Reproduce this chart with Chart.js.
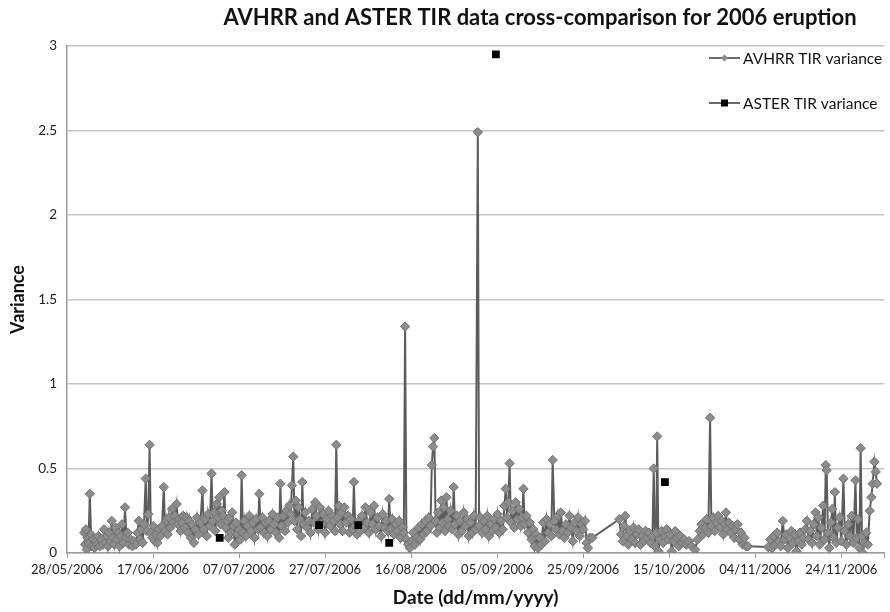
<!DOCTYPE html>
<html>
<head>
<meta charset="utf-8">
<script src="https://cdn.jsdelivr.net/npm/chart.js@4.4.1/dist/chart.umd.min.js"></script>
<style>
  html, body { margin: 0; padding: 0; background: #fff; }
  #wrap { width: 890px; height: 612px; position: relative; }
</style>
</head>
<body>
<div id="wrap"><canvas id="chart" width="890" height="612"></canvas></div>
<script>
// x values are days since 28/05/2006
const xTickLabels = ['28/05/2006', '17/06/2006', '07/07/2006', '27/07/2006', '16/08/2006',
  '05/09/2006', '25/09/2006', '15/10/2006', '04/11/2006', '24/11/2006'];

const chartTitle = 'AVHRR and ASTER TIR data cross-comparison for 2006 eruption';
const seriesNames = ['AVHRR TIR variance', 'ASTER TIR variance'];

const avhrrDays = [
  4.0, 4.2, 4.4, 4.6, 4.8, 5.0, 5.3, 5.6, 5.8, 6.1, 6.4, 6.7, 7.0, 7.3, 7.6, 8.0, 8.3, 8.6, 8.9, 9.2,
  9.5, 9.8, 10.1, 10.4, 10.7, 11.0, 11.3, 11.6, 11.9, 12.2, 12.5, 12.8, 13.1, 13.5, 13.8, 14.1, 14.4, 14.8, 15.2, 15.6,
  16.0, 16.4, 16.7, 17.0, 17.3, 17.6, 17.9, 18.3, 18.6, 18.9, 19.2, 19.5, 19.8, 20.1, 20.4, 20.7, 21.0, 21.3, 21.7, 22.1,
  22.5, 22.8, 23.1, 23.4, 23.7, 24.0, 24.4, 24.7, 25.1, 25.5, 25.8, 26.1, 26.4, 26.7, 27.0, 27.4, 27.8, 28.1, 28.4, 28.8,
  29.1, 29.5, 29.8, 30.2, 30.6, 31.0, 31.5, 31.8, 32.1, 32.5, 32.8, 33.2, 33.6, 33.9, 34.2, 34.5, 34.8, 35.1, 35.4, 35.7,
  36.0, 36.3, 36.6, 36.9, 37.2, 37.5, 37.8, 38.1, 38.4, 38.7, 39.0, 39.3, 39.6, 40.0, 40.3, 40.6, 40.9, 41.2, 41.6, 42.0,
  42.4, 42.8, 43.2, 43.6, 44.0, 44.4, 44.7, 45.0, 45.4, 45.8, 46.2, 46.6, 47.0, 47.4, 47.8, 48.2, 48.6, 49.0, 49.3, 49.6,
  49.9, 50.3, 50.7, 51.0, 51.4, 51.7, 52.0, 52.3, 52.6, 52.9, 53.2, 53.5, 53.8, 54.1, 54.4, 54.7, 55.0, 55.4, 55.8, 56.2,
  56.6, 57.0, 57.4, 57.7, 58.0, 58.4, 58.8, 59.2, 59.6, 60.0, 60.4, 60.8, 61.2, 61.6, 62.0, 62.3, 62.6, 62.9, 63.2, 63.5,
  63.8, 64.1, 64.5, 64.9, 65.3, 65.7, 66.0, 66.4, 66.7, 67.0, 67.4, 67.8, 68.2, 68.6, 69.0, 69.4, 69.8, 70.2, 70.6, 71.0,
  71.4, 71.8, 72.2, 72.6, 73.0, 73.4, 73.8, 74.2, 74.6, 74.9, 75.2, 75.6, 76.0, 76.4, 76.8, 77.2, 77.6, 78.0, 78.3, 78.6,
  78.9, 79.3, 79.7, 80.1, 80.5, 80.9, 81.3, 81.7, 82.1, 82.5, 82.9, 83.3, 83.7, 84.1, 84.5, 84.8, 85.1, 85.4, 85.7, 86.0,
  86.3, 86.7, 87.0, 87.3, 87.6, 87.9, 88.2, 88.5, 88.8, 89.2, 89.6, 89.9, 90.2, 90.6, 91.0, 91.4, 91.8, 92.2, 92.6, 93.0,
  93.4, 93.8, 94.2, 94.6, 95.0, 95.5, 95.8, 96.1, 96.5, 96.9, 97.3, 97.7, 98.1, 98.5, 98.9, 99.3, 99.7, 100.1, 100.5, 100.9,
  101.3, 101.7, 102.0, 102.3, 102.6, 102.9, 103.2, 103.6, 104.0, 104.3, 104.7, 105.1, 105.5, 105.8, 106.1, 106.4, 106.8, 107.2, 107.6, 108.0,
  108.4, 108.7, 109.1, 109.5, 109.9, 110.3, 110.7, 111.1, 111.5, 111.9, 112.3, 112.6, 112.9, 113.3, 113.7, 114.1, 114.5, 114.8, 115.2, 115.6,
  116.0, 116.4, 116.8, 117.2, 117.6, 118.0, 118.4, 118.8, 119.2, 119.6, 120.0, 120.4, 120.8, 121.1, 121.5, 122.1,
  128.4, 128.8, 129.2, 129.5, 129.8, 130.1, 130.5, 130.9, 131.3, 131.7, 132.1, 132.5, 132.9, 133.3, 133.7, 134.1, 134.5, 134.9, 135.3, 135.7,
  136.1, 136.4, 136.7, 137.0, 137.2, 137.5, 137.8, 138.2, 138.6, 139.0, 139.4, 139.8, 140.2, 140.6, 141.0, 141.4, 141.8, 142.2, 142.6, 143.0,
  143.5, 144.0, 144.6, 145.2, 146.0, 146.6, 147.1, 147.5, 147.9, 148.3, 148.7, 149.1, 149.5, 149.8, 150.2, 150.6, 151.0, 151.4, 151.8, 152.2,
  152.6, 152.9, 153.2, 153.5, 153.9, 154.3, 154.7, 155.1, 155.5, 155.9, 156.3, 156.7, 157.1, 157.5, 157.9, 158.3,
  163.0, 163.5, 163.9, 164.3, 164.7, 165.1, 165.5, 165.9, 166.4, 166.8, 167.2, 167.6, 168.0, 168.4, 168.8, 169.2, 169.6, 170.0, 170.4, 170.8,
  171.2, 171.6, 172.0, 172.4, 172.8, 173.2, 173.6, 174.0, 174.3, 174.7, 175.0, 175.4, 175.8, 176.1, 176.4, 176.6, 176.9, 177.2, 177.6, 177.9,
  178.2, 178.5, 178.8, 179.2, 179.6, 180.0, 180.5, 180.8, 181.2, 181.6, 182.0, 182.4, 182.8, 183.3, 183.6, 183.9, 184.2, 184.5, 184.8, 185.0,
  185.4, 185.8, 186.2, 186.6, 187.0, 187.3, 187.7, 188.0, 188.3
];

const avhrrVariance = [
  0.12, 0.05, 0.14, 0.02, 0.09, 0.06, 0.35, 0.11, 0.04, 0.08, 0.03, 0.07, 0.05, 0.10, 0.04, 0.08, 0.05, 0.14, 0.06, 0.10,
  0.04, 0.12, 0.07, 0.19, 0.09, 0.05, 0.15, 0.08, 0.12, 0.04, 0.10, 0.17, 0.06, 0.27, 0.09, 0.12, 0.05, 0.08, 0.04, 0.07,
  0.05, 0.12, 0.19, 0.08, 0.14, 0.06, 0.17, 0.44, 0.13, 0.23, 0.64, 0.12, 0.09, 0.16, 0.07, 0.11, 0.06, 0.14, 0.10, 0.16,
  0.39, 0.13, 0.19, 0.11, 0.21, 0.15, 0.26, 0.18, 0.22, 0.29, 0.17, 0.20, 0.13, 0.18, 0.22, 0.15, 0.21, 0.12, 0.19, 0.09,
  0.17, 0.06, 0.14, 0.21, 0.11, 0.18, 0.37, 0.14, 0.20, 0.10, 0.23, 0.16, 0.47, 0.19, 0.24, 0.13, 0.29, 0.21, 0.33, 0.17,
  0.25, 0.22, 0.36, 0.15, 0.19, 0.09, 0.21, 0.12, 0.24, 0.16, 0.05, 0.18, 0.11, 0.14, 0.08, 0.46, 0.12, 0.19, 0.10, 0.16,
  0.22, 0.13, 0.18, 0.09, 0.20, 0.14, 0.35, 0.15, 0.21, 0.12, 0.18, 0.10, 0.19, 0.14, 0.23, 0.17, 0.12, 0.21, 0.09, 0.41,
  0.16, 0.22, 0.13, 0.25, 0.18, 0.28, 0.23, 0.40, 0.57, 0.19, 0.31, 0.14, 0.27, 0.20, 0.10, 0.42, 0.17, 0.24, 0.15, 0.19,
  0.12, 0.26, 0.18, 0.30, 0.22, 0.14, 0.27, 0.17, 0.23, 0.12, 0.20, 0.25, 0.16, 0.22, 0.19, 0.13, 0.64, 0.21, 0.28, 0.17,
  0.24, 0.13, 0.27, 0.18, 0.22, 0.12, 0.20, 0.14, 0.42, 0.16, 0.11, 0.19, 0.13, 0.22, 0.15, 0.27, 0.18, 0.12, 0.24, 0.17,
  0.28, 0.14, 0.21, 0.16, 0.10, 0.23, 0.15, 0.19, 0.13, 0.32, 0.14, 0.20, 0.11, 0.17, 0.13, 0.19, 0.09, 0.15, 0.12, 1.34,
  0.08, 0.05, 0.03, 0.07, 0.12, 0.05, 0.09, 0.15, 0.08, 0.17, 0.11, 0.19, 0.13, 0.21, 0.16, 0.52, 0.63, 0.68, 0.19, 0.12,
  0.24, 0.15, 0.31, 0.18, 0.27, 0.13, 0.33, 0.20, 0.16, 0.25, 0.14, 0.39, 0.17, 0.22, 0.11, 0.19, 0.13, 0.24, 0.16, 0.20,
  0.10, 0.18, 0.12, 0.22, 0.14, 2.49, 0.16, 0.21, 0.12, 0.19, 0.14, 0.22, 0.10, 0.17, 0.13, 0.20, 0.15, 0.23, 0.12, 0.19,
  0.14, 0.28, 0.38, 0.21, 0.30, 0.53, 0.18, 0.25, 0.15, 0.30, 0.20, 0.26, 0.16, 0.21, 0.38, 0.17, 0.22, 0.12, 0.18, 0.08,
  0.14, 0.04, 0.11, 0.03, 0.09, 0.05, 0.18, 0.07, 0.20, 0.12, 0.17, 0.10, 0.55, 0.19, 0.14, 0.22, 0.11, 0.24, 0.13, 0.09,
  0.17, 0.12, 0.22, 0.15, 0.07, 0.18, 0.13, 0.21, 0.10, 0.17, 0.14, 0.19, 0.06, 0.03, 0.09, 0.09,
  0.20, 0.11, 0.07, 0.16, 0.22, 0.10, 0.05, 0.13, 0.08, 0.15, 0.06, 0.11, 0.14, 0.05, 0.10, 0.07, 0.13, 0.09, 0.12, 0.06,
  0.10, 0.50, 0.04, 0.12, 0.69, 0.01, 0.08, 0.13, 0.06, 0.10, 0.14, 0.08, 0.11, 0.01, 0.07, 0.13, 0.09, 0.04, 0.10, 0.06,
  0.08, 0.05, 0.07, 0.04, 0.02, 0.08, 0.13, 0.17, 0.11, 0.15, 0.20, 0.12, 0.80, 0.16, 0.21, 0.13, 0.18, 0.22, 0.15, 0.19,
  0.11, 0.17, 0.24, 0.14, 0.18, 0.12, 0.16, 0.09, 0.14, 0.17, 0.08, 0.12, 0.05, 0.09, 0.04, 0.04,
  0.035, 0.08, 0.03, 0.10, 0.05, 0.12, 0.07, 0.04, 0.19, 0.08, 0.11, 0.03, 0.09, 0.13, 0.06, 0.11, 0.01, 0.07, 0.12, 0.05,
  0.09, 0.14, 0.19, 0.08, 0.13, 0.06, 0.17, 0.24, 0.10, 0.21, 0.05, 0.15, 0.28, 0.08, 0.52, 0.49, 0.12, 0.03, 0.18, 0.26,
  0.09, 0.36, 0.06, 0.15, 0.21, 0.07, 0.44, 0.13, 0.05, 0.17, 0.10, 0.22, 0.06, 0.43, 0.09, 0.20, 0.03, 0.62, 0.10, 0.00,
  0.06, 0.12, 0.05, 0.25, 0.33, 0.41, 0.54, 0.48, 0.41
];

const asterDays = [35.5, 58.6, 67.7, 74.9, 99.7, 139.0];
const asterVariance = [0.09, 0.165, 0.165, 0.06, 2.95, 0.42];

const avhrrPoints = avhrrDays.map((d, i) => ({ x: d, y: avhrrVariance[i] }));
const asterPoints = asterDays.map((d, i) => ({ x: d, y: asterVariance[i] }));

const FONT = 'Lato, "Open Sans", sans-serif';

// title + in-plot legend, like the spreadsheet chart
const decorations = {
  id: 'decorations',
  afterDraw(chart) {
    const ctx = chart.ctx;
    ctx.save();
    ctx.fillStyle = '#111';
    ctx.font = 'bold 22px ' + FONT;
    ctx.textAlign = 'center';
    ctx.textBaseline = 'middle';
    ctx.fillText(chartTitle, 540, 18);

    const rows = [58, 103];
    ctx.font = '15.5px ' + FONT;
    ctx.textAlign = 'left';
    rows.forEach((y, i) => {
      ctx.strokeStyle = '#6a6a6a';
      ctx.lineWidth = 2;
      ctx.beginPath();
      ctx.moveTo(709, y);
      ctx.lineTo(740, y);
      ctx.stroke();
      if (i === 0) {
        ctx.fillStyle = '#8a8a8a';
        ctx.beginPath();
        ctx.moveTo(724.5, y - 3.5);
        ctx.lineTo(728, y);
        ctx.lineTo(724.5, y + 3.5);
        ctx.lineTo(721, y);
        ctx.closePath();
        ctx.fill();
      } else {
        ctx.fillStyle = '#000';
        ctx.fillRect(721, y - 3.5, 7, 7);
      }
      ctx.fillStyle = '#111';
      ctx.fillText(seriesNames[i], 743, y + 1);
    });
    ctx.restore();
  }
};

new Chart(document.getElementById('chart'), {
  type: 'scatter',
  data: {
    datasets: [
      {
        label: seriesNames[1],
        data: asterPoints,
        showLine: false,
        pointStyle: 'rect',
        pointRadius: 5.5,
        backgroundColor: '#000',
        borderColor: '#000',
        borderWidth: 0,
        order: 0
      },
      {
        label: seriesNames[0],
        data: avhrrPoints,
        showLine: true,
        borderColor: '#5c5c5c',
        borderWidth: 2,
        pointStyle: 'rectRot',
        pointRadius: 4.7,
        pointBackgroundColor: '#8c8c8c',
        pointBorderColor: '#727272',
        pointBorderWidth: 1,
        order: 1
      }
    ]
  },
  options: {
    responsive: false,
    animation: false,
    events: [],
    layout: { padding: { top: 46, right: 2, left: 0, bottom: 0 } },
    plugins: {
      legend: { display: false },
      title: { display: false },
      tooltip: { enabled: false }
    },
    scales: {
      x: {
        type: 'linear',
        min: 0,
        max: 190,
        afterFit(s) { s.height = 59; },
        border: { color: '#9a9a9a', width: 1.5 },
        grid: { drawOnChartArea: false, drawTicks: true, tickLength: 5, color: '#9a9a9a' },
        ticks: {
          stepSize: 20,
          maxRotation: 0,
          autoSkip: false,
          padding: 4,
          color: '#222',
          font: { family: FONT, size: 13 },
          callback: v => (v % 20 === 0 ? xTickLabels[v / 20] : '')
        },
        title: {
          display: true,
          text: 'Date (dd/mm/yyyy)',
          color: '#111',
          font: { family: FONT, size: 19, weight: 'bold' },
          padding: { top: 0, bottom: 3 }
        }
      },
      y: {
        min: 0,
        max: 3,
        afterFit(s) { s.width = 67; },
        border: { color: '#9a9a9a', width: 1.5 },
        grid: { color: '#c4c4c4', lineWidth: 1.5, drawTicks: false },
        ticks: {
          stepSize: 0.5,
          padding: 10,
          color: '#222',
          font: { family: FONT, size: 13.5 },
          callback: v => String(v)
        },
        title: {
          display: true,
          text: 'Variance',
          color: '#111',
          font: { family: FONT, size: 18, weight: 'bold' },
          padding: { top: 7, bottom: 0 }
        }
      }
    }
  },
  plugins: [decorations]
});
</script>
</body>
</html>
